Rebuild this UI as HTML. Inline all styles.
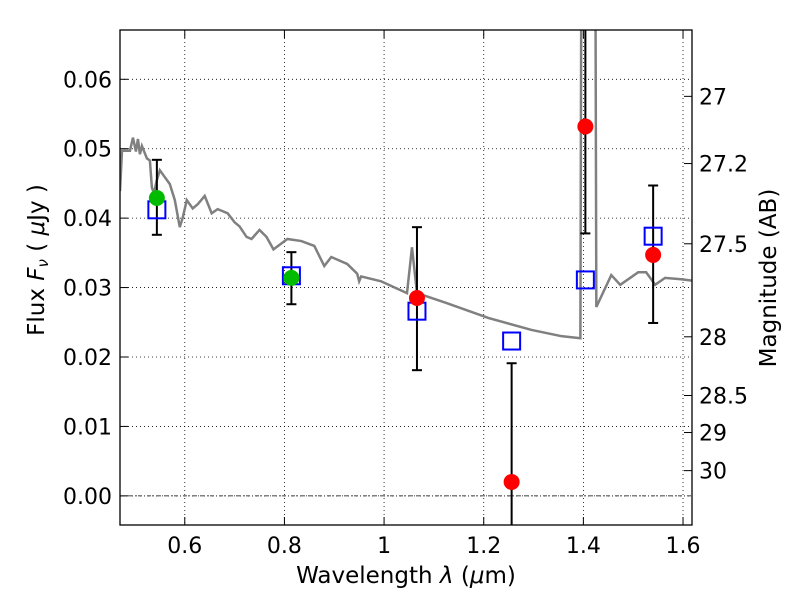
<!DOCTYPE html>
<html><head><meta charset="utf-8"><style>body{margin:0;background:#fff}svg{display:block;font-family:"DejaVu Sans","Liberation Sans",sans-serif}</style></head>
<body>
<svg id="c" width="800" height="600"></svg>
<script>
const specX=[0.47,0.474,0.49,0.496,0.502,0.506,0.51,0.514,0.524,0.53,0.534,0.538,0.544,0.55,0.56,0.57,0.58,0.59,0.596,0.604,0.616,0.626,0.64,0.654,0.666,0.686,0.7,0.71,0.724,0.734,0.75,0.764,0.778,0.806,0.834,0.86,0.88,0.894,0.926,0.946,0.95,0.954,0.994,1.046,1.056,1.066,1.124,1.21,1.296,1.356,1.394,1.396,1.424,1.426,1.456,1.474,1.51,1.526,1.544,1.564,1.596,1.618];
const specY=[0.0439,0.0497,0.0497,0.0516,0.0496,0.0514,0.0492,0.0504,0.0486,0.0483,0.0444,0.0436,0.0455,0.0469,0.0459,0.0449,0.0426,0.0387,0.0401,0.0426,0.0414,0.0420,0.0432,0.0407,0.0413,0.0407,0.0394,0.0388,0.0373,0.0370,0.0383,0.0373,0.0355,0.0370,0.0367,0.0360,0.0331,0.0344,0.0334,0.0320,0.0309,0.0316,0.0309,0.0292,0.0358,0.0292,0.0278,0.0256,0.0239,0.0230,0.0227,0.08,0.08,0.0272,0.0318,0.0304,0.0322,0.0322,0.0304,0.0314,0.0312,0.0310];
const photX=[0.544,0.814,1.066,1.256,1.404,1.54];
const photF=[0.0429,0.0314,0.0285,0.002,0.0532,0.0347];
const photHi=[0.0484,0.0351,0.0387,0.0191,0.09,0.0447];
const photLo=[0.0376,0.0276,0.0181,-0.01,0.0378,0.0249];
const photColor=['#00bb00','#00bb00','red','red','red','red'];
const modelF=[0.0412,0.0317,0.0266,0.0223,0.0311,0.0374];
const xTicks=[0.6,0.8,1.0,1.2,1.4,1.6];
const xTickLabels=['0.6','0.8','1','1.2','1.4','1.6'];
const yTicks=[0,0.01,0.02,0.03,0.04,0.05,0.06];
const magTicks=[27,27.2,27.5,28,28.5,29,30];
const L=120,R=692,T=30,B=525;
const xmin=0.47,xmax=1.618,ymin=-0.0042,ymax=0.0671;
const X=v=>L+(v-xmin)/(xmax-xmin)*(R-L);
const Y=v=>B-(v-ymin)/(ymax-ymin)*(B-T);
const svg=document.getElementById('c');const NS='http://www.w3.org/2000/svg';
function mk(t,a,p){const e=document.createElementNS(NS,t);for(const k in a)e.setAttribute(k,a[k]);(p||svg).appendChild(e);return e;}
const defs=mk('defs',{});const cp=mk('clipPath',{id:'cp'},defs);mk('rect',{x:L,y:T,width:R-L,height:B-T},cp);
const grid=mk('g',{});
xTicks.forEach((v,i)=>{const x=X(v);
 mk('line',{x1:x,x2:x,y1:T,y2:B,stroke:'#000','stroke-width':0.8,'stroke-dasharray':'1,3'},grid);
 const t1=mk('line',{x1:x,x2:x,y1:B,y2:B-8,stroke:'#000'});
 mk('line',{x1:x,x2:x,y1:T,y2:T+8,stroke:'#000'});
 const t=mk('text',{x:x,y:B+28,'font-size':22,'text-anchor':'middle'});t.textContent=xTickLabels[i];
 });
yTicks.forEach(v=>{const y=Y(v);
 mk('line',{x1:L,x2:R,y1:y,y2:y,stroke:'#000','stroke-width':0.8,'stroke-dasharray':'1,3'},grid);
 mk('line',{x1:L,x2:L+8,y1:y,y2:y,stroke:'#000'});
 const t=mk('text',{x:L-8,y:y+8,'font-size':22,'text-anchor':'end'});t.textContent=v.toFixed(2);
 });
magTicks.forEach(m=>{const f=Math.pow(10,(23.9-m)/2.5);const y=Y(f);
 mk('line',{x1:R,x2:R-8,y1:y,y2:y,stroke:'#000'});
 const t=mk('text',{x:R+7,y:y+8,'font-size':22});t.textContent=String(m);
 });
const zl=mk('line',{x1:L,x2:R,y1:Y(0),y2:Y(0),stroke:'#000','stroke-width':0.8,'stroke-dasharray':'4,2,1,2'});

const pg=mk('g',{'clip-path':'url(#cp)'});
const sp=mk('polyline',{points:specX.map((x,i)=>X(x)+','+Y(specY[i])).join(' '),fill:'none',stroke:'#808080','stroke-width':2.5},pg);

photX.forEach((x,i)=>{const px=X(x);
 const e=mk('g',{},pg);
 mk('line',{x1:px,x2:px,y1:Y(photHi[i]),y2:Y(photLo[i]),stroke:'#000','stroke-width':2},e);
 [photHi[i],photLo[i]].forEach(v=>mk('line',{x1:px-5,x2:px+5,y1:Y(v),y2:Y(v),stroke:'#000','stroke-width':2},e));
 const s=mk('rect',{x:px-8.5,y:Y(modelF[i])-8.5,width:17,height:17,fill:'none',stroke:'#0000ff','stroke-width':2},pg);
 
 const c=mk('circle',{cx:px,cy:Y(photF[i]),r:8,fill:photColor[i]},pg);
 });
const fr=mk('rect',{x:L,y:T,width:R-L,height:B-T,fill:'none',stroke:'#000','stroke-width':1.3});

let t=mk('text',{x:406,y:583,'font-size':23,'text-anchor':'middle'});t.innerHTML='Wavelength  <tspan font-style="italic">λ</tspan> (<tspan font-style="italic">μ</tspan>m)';

t=mk('text',{x:0,y:0,'font-size':23,'text-anchor':'middle',transform:'translate(44,260) rotate(-90)'});t.innerHTML='Flux  <tspan font-style="italic">F</tspan><tspan font-style="italic" font-size="15" dy="4">ν</tspan><tspan dy="-4">  (  </tspan><tspan font-style="italic">μ</tspan>Jy )';

t=mk('text',{x:0,y:0,'font-size':23,'text-anchor':'middle',transform:'translate(776,278) rotate(-90)'});t.textContent='Magnitude (AB)';

</script>
</body></html>
